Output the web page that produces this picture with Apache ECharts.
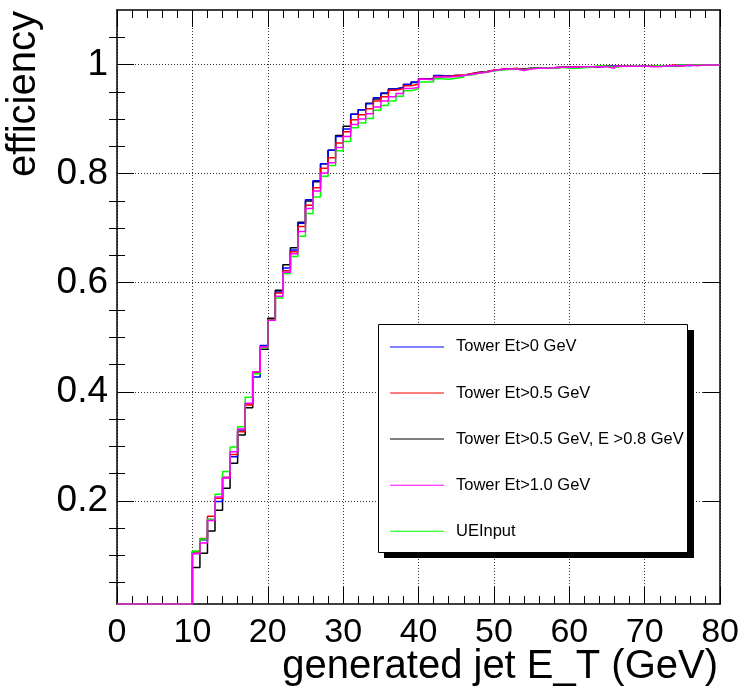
<!DOCTYPE html>
<html>
<head>
<meta charset="utf-8">
<script src="https://cdn.jsdelivr.net/npm/echarts@6/dist/echarts.min.js"></script>
<style>
  html, body { margin: 0; padding: 0; background: #ffffff; }
  #chart { width: 742px; height: 689px; }
</style>
</head>
<body>
<div id="chart"></div>
<script>
const FONT = '"Liberation Sans", Arial, Helvetica, sans-serif';

// Generated jet E_T histogram: 80 bins of 1 GeV, lower edges 0..79 GeV
const binLowEdges = Array.from({ length: 80 }, (_, i) => i);
const BIN_WIDTH = 1;

// Axis ranges and tick values
const X_MIN = 0, X_MAX = 80, X_STEP = 10;
const Y_MIN = 0.011, Y_MAX = 1.1;
const yMajorTicks = [0.2, 0.4, 0.6, 0.8, 1.0];
const yMinorTicks = [0.05, 0.1, 0.15, 0.25, 0.3, 0.35, 0.45, 0.5, 0.55, 0.65, 0.7, 0.75,
                     0.85, 0.9, 0.95, 1.05];

// Series names (legend order)
const seriesNames = [
  'Tower Et>0 GeV',
  'Tower Et>0.5 GeV',
  'Tower Et>0.5 GeV, E >0.8 GeV',
  'Tower Et>1.0 GeV',
  'UEInput'
];

// Efficiency per bin, bins 0..79
const effEt0 = [
  0, 0, 0, 0, 0, 0, 0, 0, 0, 0,
  0.107, 0.129, 0.166, 0.199, 0.243, 0.281, 0.330, 0.378, 0.427, 0.485,
  0.531, 0.583, 0.627, 0.660, 0.709, 0.752, 0.787, 0.818, 0.843, 0.868,
  0.882, 0.909, 0.917, 0.928, 0.939, 0.948, 0.955, 0.958, 0.964, 0.968,
  0.974, 0.974, 0.980, 0.979, 0.980, 0.980, 0.982, 0.985, 0.987, 0.989,
  0.991, 0.992, 0.992, 0.992, 0.993, 0.993, 0.994, 0.994, 0.995, 0.995,
  0.995, 0.996, 0.996, 0.996, 0.997, 0.997, 0.997, 0.997, 0.998, 0.998,
  0.997, 0.998, 0.998, 0.998, 0.999, 0.998, 0.999, 0.999, 0.999, 0.999
];
const effEt05 = [
  0, 0, 0, 0, 0, 0, 0, 0, 0, 0,
  0.107, 0.131, 0.172, 0.205, 0.243, 0.285, 0.327, 0.376, 0.435, 0.482,
  0.532, 0.581, 0.622, 0.657, 0.703, 0.742, 0.774, 0.810, 0.829, 0.856,
  0.877, 0.899, 0.908, 0.919, 0.933, 0.941, 0.953, 0.956, 0.961, 0.964,
  0.973, 0.973, 0.978, 0.978, 0.980, 0.981, 0.983, 0.985, 0.987, 0.990,
  0.991, 0.992, 0.993, 0.991, 0.993, 0.993, 0.993, 0.994, 0.995, 0.995,
  0.995, 0.996, 0.996, 0.997, 0.997, 0.996, 0.997, 0.998, 0.998, 0.998,
  0.998, 0.998, 0.998, 0.999, 0.998, 0.999, 0.999, 0.999, 0.999, 0.999
];
const effEt05E08 = [
  0, 0, 0, 0, 0, 0, 0, 0, 0, 0,
  0.078, 0.104, 0.145, 0.183, 0.223, 0.269, 0.321, 0.371, 0.436, 0.478,
  0.535, 0.586, 0.633, 0.664, 0.711, 0.750, 0.785, 0.818, 0.843, 0.870,
  0.887, 0.909, 0.917, 0.929, 0.937, 0.947, 0.955, 0.958, 0.963, 0.967,
  0.974, 0.973, 0.978, 0.979, 0.980, 0.980, 0.983, 0.986, 0.987, 0.989,
  0.991, 0.992, 0.992, 0.992, 0.993, 0.994, 0.993, 0.994, 0.995, 0.995,
  0.995, 0.996, 0.996, 0.996, 0.997, 0.997, 0.997, 0.997, 0.998, 0.998,
  0.997, 0.998, 0.998, 0.998, 0.998, 0.999, 0.999, 0.999, 0.999, 0.999
];
const effEt10 = [
  0, 0, 0, 0, 0, 0, 0, 0, 0, 0,
  0.103, 0.123, 0.164, 0.207, 0.242, 0.290, 0.332, 0.379, 0.437, 0.482,
  0.531, 0.575, 0.619, 0.653, 0.694, 0.736, 0.768, 0.801, 0.820, 0.848,
  0.868, 0.890, 0.900, 0.910, 0.922, 0.933, 0.941, 0.947, 0.956, 0.958,
  0.973, 0.972, 0.977, 0.977, 0.978, 0.980, 0.982, 0.984, 0.986, 0.989,
  0.991, 0.992, 0.992, 0.989, 0.992, 0.993, 0.993, 0.994, 0.995, 0.995,
  0.995, 0.996, 0.996, 0.996, 0.996, 0.993, 0.997, 0.997, 0.997, 0.998,
  0.996, 0.996, 0.998, 0.998, 0.998, 0.999, 0.998, 0.999, 0.999, 0.999
];
const effUEInput = [
  0, 0, 0, 0, 0, 0, 0, 0, 0, 0,
  0.108, 0.130, 0.166, 0.212, 0.254, 0.299, 0.336, 0.390, 0.433, 0.481,
  0.531, 0.572, 0.617, 0.648, 0.685, 0.727, 0.757, 0.795, 0.815, 0.842,
  0.859, 0.884, 0.893, 0.901, 0.916, 0.925, 0.933, 0.942, 0.952, 0.955,
  0.968, 0.968, 0.974, 0.973, 0.975, 0.977, 0.981, 0.984, 0.986, 0.988,
  0.990, 0.991, 0.992, 0.990, 0.993, 0.993, 0.994, 0.993, 0.995, 0.993,
  0.993, 0.994, 0.995, 0.998, 0.997, 0.995, 0.997, 0.997, 0.998, 0.998,
  0.997, 0.998, 0.998, 0.998, 0.999, 0.999, 0.999, 0.999, 0.999, 0.999
];

const seriesValues = [effEt0, effEt05, effEt05E08, effEt10, effUEInput];
const seriesColors = ['#0000ff', '#ff0000', '#000000', '#ff00ff', '#00ff00'];
// drawing order (last on top)
const drawOrder = [2, 0, 1, 4, 3];

// Histogram outline points: one point per bin lower edge plus the upper edge of
// the last bin; empty bins sit on the lower frame edge.
function histPoints(values) {
  const pts = values.map((v, i) => [binLowEdges[i], Math.max(v, Y_MIN)]);
  const last = binLowEdges.length - 1;
  pts.push([binLowEdges[last] + BIN_WIDTH, Math.max(values[last], Y_MIN)]);
  return pts;
}

const GRID = { left: 117, right: 21, top: 10, bottom: 85 };
const MAJOR_LEN = 17, MINOR_LEN = 8;
const frameLine = { show: true, onZero: false, lineStyle: { color: '#000', width: 1.5 } };
const dotted = { show: true, lineStyle: { color: '#333', width: 1, type: [1, 2] } };

const chart = echarts.init(document.getElementById('chart'), null, { renderer: 'canvas' });

const option = {
  animation: false,
  backgroundColor: '#ffffff',
  grid: GRID,
  xAxis: [
    {
      type: 'value', position: 'bottom', min: X_MIN, max: X_MAX, interval: X_STEP,
      axisLine: frameLine,
      axisTick: { show: true, inside: true, length: MAJOR_LEN, lineStyle: { color: '#000', width: 1 } },
      minorTick: { show: true, splitNumber: 5, length: MINOR_LEN, lineStyle: { color: '#000', width: 1 } },
      axisLabel: { show: true, fontFamily: FONT, fontSize: 34, color: '#000', margin: 12 },
      splitLine: dotted,
      minorSplitLine: { show: false }
    },
    {
      type: 'value', position: 'top', min: X_MIN, max: X_MAX, interval: X_STEP,
      axisLine: frameLine,
      axisTick: { show: true, inside: true, length: MAJOR_LEN, lineStyle: { color: '#000', width: 1 } },
      minorTick: { show: true, splitNumber: 5, length: MINOR_LEN, lineStyle: { color: '#000', width: 1 } },
      axisLabel: { show: false },
      splitLine: { show: false }
    }
  ],
  yAxis: [
    {
      type: 'value', position: 'left', min: Y_MIN, max: Y_MAX,
      axisLine: frameLine,
      axisTick: { show: true, inside: true, length: MAJOR_LEN, customValues: yMajorTicks,
                  lineStyle: { color: '#000', width: 1 } },
      axisLabel: { show: true, customValues: yMajorTicks, fontFamily: FONT, fontSize: 37,
                   color: '#000', margin: 9 },
      splitLine: dotted
    },
    {
      type: 'value', position: 'left', min: Y_MIN, max: Y_MAX,
      axisLine: { show: false },
      axisTick: { show: true, inside: true, length: MINOR_LEN, customValues: yMinorTicks,
                  lineStyle: { color: '#000', width: 1 } },
      axisLabel: { show: false },
      splitLine: { show: false }
    },
    {
      type: 'value', position: 'right', min: Y_MIN, max: Y_MAX,
      axisLine: frameLine,
      axisTick: { show: true, inside: true, length: MAJOR_LEN, customValues: yMajorTicks,
                  lineStyle: { color: '#000', width: 1 } },
      axisLabel: { show: false },
      splitLine: { show: false }
    },
    {
      type: 'value', position: 'right', min: Y_MIN, max: Y_MAX,
      axisLine: { show: false },
      axisTick: { show: true, inside: true, length: MINOR_LEN, customValues: yMinorTicks,
                  lineStyle: { color: '#000', width: 1 } },
      axisLabel: { show: false },
      splitLine: { show: false }
    }
  ],
  legend: {
    data: seriesNames,
    orient: 'vertical',
    left: 390,
    top: 338.4,
    padding: 0,
    icon: 'rect',
    itemWidth: 54,
    itemHeight: 1,
    itemGap: 29.1,
    lineStyle: { width: 1 },
    selectedMode: false,
    textStyle: { fontFamily: FONT, fontSize: 16.5, color: '#000', padding: [0, 0, 0, 7] },
    z: 6
  },
  graphic: [
    // legend frame with drop shadow
    { type: 'rect', z: 4, shape: { x: 384, y: 330, width: 310, height: 228 },
      style: { fill: '#000' } },
    { type: 'rect', z: 5, shape: { x: 378.5, y: 324.5, width: 309, height: 228 },
      style: { fill: '#fff', stroke: '#000', lineWidth: 1 } },
    // axis titles
    { type: 'text', z: 5, x: 718, y: 687,
      style: { text: 'generated jet E_T (GeV)', font: '40px ' + FONT, fill: '#000',
               align: 'right', verticalAlign: 'bottom' } },
    { type: 'text', z: 5, x: 24, y: 11, rotation: Math.PI / 2,
      style: { text: 'efficiency', font: '40px ' + FONT, fill: '#000',
               align: 'right', verticalAlign: 'middle' } }
  ],
  series: drawOrder.map(k => ({
    type: 'line',
    name: seriesNames[k],
    xAxisIndex: 0,
    yAxisIndex: 0,
    step: 'end',
    symbol: 'none',
    clip: true,
    data: histPoints(seriesValues[k]),
    lineStyle: { color: seriesColors[k], width: 1.5 },
    itemStyle: { color: seriesColors[k] },
    emphasis: { disabled: true },
    z: 2
  }))
};

chart.setOption(option);
</script>
</body>
</html>
